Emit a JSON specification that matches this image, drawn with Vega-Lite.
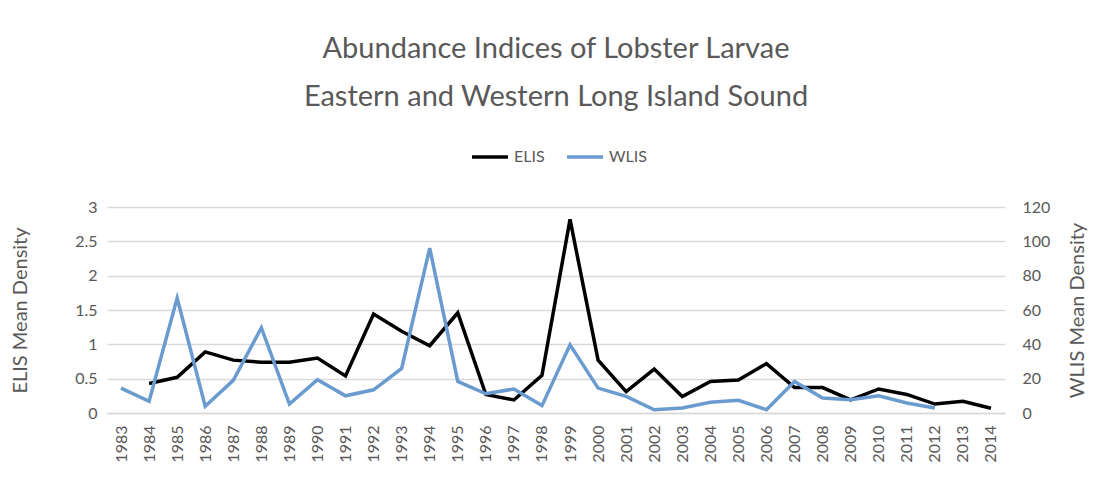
{
  "$schema": "https://vega.github.io/schema/vega-lite/v6.json",
  "autosize": {"type": "none"},
  "width": 898,
  "height": 206,
  "padding": {"left": 107, "top": 207, "right": 98, "bottom": 76},
  "background": "white",
  "title": {
    "text": ["Abundance Indices of Lobster Larvae", "Eastern and Western Long Island Sound"],
    "anchor": "middle",
    "font": "Lato",
    "fontSize": 29,
    "fontWeight": "normal",
    "color": "#595959",
    "lineHeight": 48,
    "offset": 25
  },
  "config": {
    "font": "Lato",
    "view": {"stroke": null},
    "axis": {"labelColor": "#595959", "titleColor": "#595959", "labelFont": "Lato", "titleFont": "Lato"}
  },
  "data": {
    "values": [
      {"year": "1983", "series": "WLIS", "value": 14.5},
      {"year": "1984", "series": "WLIS", "value": 6.8},
      {"year": "1985", "series": "WLIS", "value": 67},
      {"year": "1986", "series": "WLIS", "value": 3.9},
      {"year": "1987", "series": "WLIS", "value": 19},
      {"year": "1988", "series": "WLIS", "value": 49.7},
      {"year": "1989", "series": "WLIS", "value": 5.2},
      {"year": "1990", "series": "WLIS", "value": 19.4},
      {"year": "1991", "series": "WLIS", "value": 10},
      {"year": "1992", "series": "WLIS", "value": 13.5},
      {"year": "1993", "series": "WLIS", "value": 26},
      {"year": "1994", "series": "WLIS", "value": 96},
      {"year": "1995", "series": "WLIS", "value": 18.4},
      {"year": "1996", "series": "WLIS", "value": 11.2},
      {"year": "1997", "series": "WLIS", "value": 14},
      {"year": "1998", "series": "WLIS", "value": 4.3},
      {"year": "1999", "series": "WLIS", "value": 39.7},
      {"year": "2000", "series": "WLIS", "value": 14.5},
      {"year": "2001", "series": "WLIS", "value": 9.7},
      {"year": "2002", "series": "WLIS", "value": 1.9},
      {"year": "2003", "series": "WLIS", "value": 2.9},
      {"year": "2004", "series": "WLIS", "value": 6.2},
      {"year": "2005", "series": "WLIS", "value": 7.4},
      {"year": "2006", "series": "WLIS", "value": 1.9},
      {"year": "2007", "series": "WLIS", "value": 18.4},
      {"year": "2008", "series": "WLIS", "value": 8.7},
      {"year": "2009", "series": "WLIS", "value": 7.7},
      {"year": "2010", "series": "WLIS", "value": 10},
      {"year": "2011", "series": "WLIS", "value": 5.8},
      {"year": "2012", "series": "WLIS", "value": 2.9},
      {"year": "1984", "series": "ELIS", "value": 0.43},
      {"year": "1985", "series": "ELIS", "value": 0.52},
      {"year": "1986", "series": "ELIS", "value": 0.89},
      {"year": "1987", "series": "ELIS", "value": 0.77},
      {"year": "1988", "series": "ELIS", "value": 0.74},
      {"year": "1989", "series": "ELIS", "value": 0.74},
      {"year": "1990", "series": "ELIS", "value": 0.8},
      {"year": "1991", "series": "ELIS", "value": 0.54},
      {"year": "1992", "series": "ELIS", "value": 1.44},
      {"year": "1993", "series": "ELIS", "value": 1.19},
      {"year": "1994", "series": "ELIS", "value": 0.98},
      {"year": "1995", "series": "ELIS", "value": 1.46},
      {"year": "1996", "series": "ELIS", "value": 0.27},
      {"year": "1997", "series": "ELIS", "value": 0.19},
      {"year": "1998", "series": "ELIS", "value": 0.55},
      {"year": "1999", "series": "ELIS", "value": 2.82},
      {"year": "2000", "series": "ELIS", "value": 0.77},
      {"year": "2001", "series": "ELIS", "value": 0.31},
      {"year": "2002", "series": "ELIS", "value": 0.64},
      {"year": "2003", "series": "ELIS", "value": 0.24},
      {"year": "2004", "series": "ELIS", "value": 0.46},
      {"year": "2005", "series": "ELIS", "value": 0.48},
      {"year": "2006", "series": "ELIS", "value": 0.72},
      {"year": "2007", "series": "ELIS", "value": 0.37},
      {"year": "2008", "series": "ELIS", "value": 0.37},
      {"year": "2009", "series": "ELIS", "value": 0.19},
      {"year": "2010", "series": "ELIS", "value": 0.35},
      {"year": "2011", "series": "ELIS", "value": 0.27},
      {"year": "2012", "series": "ELIS", "value": 0.13},
      {"year": "2013", "series": "ELIS", "value": 0.17},
      {"year": "2014", "series": "ELIS", "value": 0.07}
    ]
  },
  "encoding": {
    "x": {
      "field": "year",
      "type": "ordinal",
      "scale": {"type": "point", "padding": 0.5},
      "axis": {
        "title": null,
        "labelAngle": -90,
        "labelFontSize": 16,
        "ticks": false,
        "labelPadding": 12,
        "domainColor": "#d9d9d9",
        "domainWidth": 1.5
      }
    },
    "color": {
      "field": "series",
      "type": "nominal",
      "scale": {"domain": ["ELIS", "WLIS"], "range": ["#000000", "#6a9bcf"]},
      "legend": {
        "title": null,
        "orient": "none",
        "legendX": 363,
        "legendY": -70,
        "direction": "horizontal",
        "symbolType": "stroke",
        "symbolStrokeWidth": 3.5,
        "symbolSize": 1300,
        "labelFontSize": 16,
        "labelColor": "#595959",
        "labelFont": "Lato",
        "columnPadding": 14
      }
    }
  },
  "layer": [
    {
      "transform": [{"filter": "datum.series === 'ELIS'"}],
      "mark": {"type": "line", "strokeWidth": 3.5},
      "encoding": {
        "y": {
          "field": "value",
          "type": "quantitative",
          "scale": {"domain": [0, 3]},
          "axis": {
            "title": "ELIS Mean Density",
            "titleFontSize": 20,
            "titleFontWeight": "normal",
            "titlePadding": 44,
            "labelFontSize": 16,
            "format": "~g",
            "values": [0, 0.5, 1, 1.5, 2, 2.5, 3],
            "domain": false,
            "ticks": false,
            "labelPadding": 10,
            "gridColor": "#d9d9d9",
            "gridWidth": 1.5
          }
        }
      }
    },
    {
      "transform": [{"filter": "datum.series === 'WLIS'"}],
      "mark": {"type": "line", "strokeWidth": 3.5},
      "encoding": {
        "y": {
          "field": "value",
          "type": "quantitative",
          "scale": {"domain": [0, 120]},
          "axis": {
            "orient": "right",
            "title": "WLIS Mean Density",
            "titleAngle": 270,
            "titleX": 72,
            "titleY": 103,
            "titleAlign": "center",
            "titleBaseline": "middle",
            "titleFontSize": 20,
            "titleFontWeight": "normal",
            "labelFontSize": 16,
            "values": [0, 20, 40, 60, 80, 100, 120],
            "domain": false,
            "ticks": false,
            "grid": false,
            "labelPadding": 17
          }
        }
      }
    }
  ],
  "resolve": {"scale": {"y": "independent"}}
}
